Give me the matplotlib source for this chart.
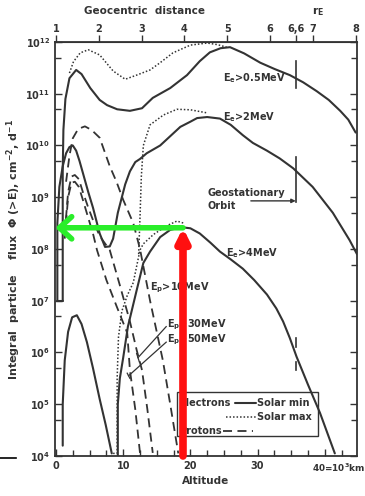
import numpy as np
import matplotlib
matplotlib.use("Agg")
import matplotlib.pyplot as plt
from matplotlib.lines import Line2D
from matplotlib.patches import Rectangle

plt.rcParams['font.family'] = ['DejaVu Sans']
plt.rcParams['font.weight'] = 'bold'
plt.rcParams['mathtext.default'] = 'regular'

EARTH_RADIUS = 6.371  # 10^3 km

# ---- electron fluxes: altitude (10^3 km) and log10 flux ----
e05_min_x = [1.0, 1.0, 1.1, 1.4, 2.0, 3.0, 3.8, 5.1, 6.5, 7.6, 9.1, 11.0, 12.8, 14.4, 17.0, 19.5, 21.4, 22.9, 24.5, 25.9, 28.0, 30.4, 32.5, 34.8, 36.8, 38.8, 40.6, 42.3, 43.5, 44.6]
e05_min_y = [7.0, 9.5, 10.3, 10.9, 11.3, 11.46, 11.38, 11.11, 10.88, 10.78, 10.70, 10.67, 10.72, 10.92, 11.11, 11.36, 11.63, 11.8, 11.88, 11.9, 11.78, 11.6, 11.48, 11.36, 11.22, 11.05, 10.88, 10.67, 10.5, 10.25]

e05_max_x = [2.0, 2.6, 3.6, 4.8, 6.5, 8.5, 10.3, 12.0, 14.0, 15.5, 17.4, 20.0, 22.5, 24.0, 25.4]
e05_max_y = [11.4, 11.62, 11.79, 11.85, 11.75, 11.44, 11.28, 11.36, 11.46, 11.6, 11.79, 11.94, 11.98, 11.95, 11.9]

e2_min_x = [0.2, 0.2, 0.5, 1.0, 1.5, 2.0, 2.5, 3.0, 3.5, 4.0, 4.8, 5.5, 6.5, 7.3, 8.0, 8.5, 9.2, 9.8, 10.3, 11.0, 11.8, 12.5, 13.5, 15.5, 17.0, 18.5, 20.0, 21.0, 22.5, 24.4, 26.0, 27.8, 29.3, 31.4, 33.3, 35.3, 38.2, 41.2, 43.7, 44.8]
e2_min_y = [7.0, 8.5, 9.2, 9.6, 9.85, 9.97, 10.0, 9.9, 9.7, 9.47, 9.1, 8.8, 8.3, 8.04, 8.05, 8.2, 8.7, 9.0, 9.25, 9.5, 9.68, 9.74, 9.85, 10.0, 10.18, 10.36, 10.46, 10.53, 10.55, 10.52, 10.4, 10.2, 10.05, 9.9, 9.75, 9.56, 9.2, 8.7, 8.17, 7.9]

e2_max_x = [12.3, 12.5, 12.7, 13.0, 14.0, 16.0, 18.0, 20.0, 22.5]
e2_max_y = [7.9, 8.6, 9.4, 10.0, 10.4, 10.59, 10.7, 10.69, 10.63]

e4_min_x = [9.2, 9.2, 9.5, 10.0, 10.7, 12.0, 13.0, 14.0, 15.5, 17.0, 18.75, 20.0, 21.4, 23.0, 24.4, 26.0, 27.8, 29.5, 31.4, 32.8, 33.8, 34.8, 35.8, 37.5, 39.3, 41.5]
e4_min_y = [4.0, 5.0, 5.5, 5.9, 6.5, 7.2, 7.73, 7.95, 8.23, 8.37, 8.42, 8.4, 8.3, 8.12, 7.95, 7.8, 7.62, 7.4, 7.12, 6.85, 6.6, 6.28, 5.92, 5.38, 4.83, 4.05]

e4_max_x = [8.5, 9.1, 9.1, 9.3, 9.8, 10.6, 11.5, 12.5, 13.0, 14.5, 16.5, 18.0, 19.0]
e4_max_y = [4.05, 4.05, 5.5, 6.3, 6.8, 7.1, 7.35, 7.98, 8.1, 8.28, 8.45, 8.54, 8.5]

e_inner_x = [1.0, 1.0, 1.3, 1.8, 2.4, 3.1, 3.8, 4.6, 5.5, 6.5, 7.4, 8.3]
e_inner_y = [4.2, 5.0, 5.85, 6.4, 6.68, 6.72, 6.55, 6.2, 5.7, 5.1, 4.6, 4.05]

# ---- proton fluxes ----
p10_x = [1.5, 2.0, 2.5, 3.3, 4.3, 5.3, 6.5, 8.0, 9.0, 10.0, 11.5, 12.5, 14.0, 15.9, 17.0, 18.2]
p10_y = [9.3, 9.8, 10.14, 10.32, 10.37, 10.3, 10.15, 9.6, 9.3, 8.95, 8.5, 8.0, 7.0, 5.85, 5.0, 4.05]

p30_x = [1.3, 1.8, 2.3, 2.8, 3.4, 4.0, 4.8, 5.5, 6.5, 8.0, 9.5, 11.0, 12.0, 12.8, 13.6, 14.4]
p30_y = [8.3, 9.1, 9.4, 9.43, 9.35, 9.1, 8.8, 8.56, 8.25, 7.98, 7.3, 6.6, 6.05, 5.66, 4.9, 4.06]

p50_x = [1.3, 1.8, 2.3, 2.8, 3.4, 4.0, 4.8, 5.5, 6.1, 7.5, 9.0, 10.6, 11.0, 11.8, 12.5]
p50_y = [8.2, 9.0, 9.28, 9.3, 9.2, 8.95, 8.6, 8.3, 7.98, 7.4, 6.9, 6.38, 5.66, 4.9, 4.06]

r_ticks = [1, 2, 3, 4, 5, 6, 6.6, 7, 8]
r_labels = ['1', '2', '3', '4', '5', '6', '6,6', '7', '8']
alt_ticks = [0, 10, 20, 30, 40]
alt_labels = ['0', '10', '20', '30', '']
flux_exponents = [4, 5, 6, 7, 8, 9, 10, 11, 12]

geo_alt = (6.6 - 1) * EARTH_RADIUS
marker_alt = 18.9      # red marker
marker_logflux = 8.41  # green marker

fig = plt.figure(figsize=(3.65, 4.96), dpi=100)
ax = fig.add_axes([55 / 365, 40 / 496, 302 / 365, 414 / 496])
ax.set_yscale('log')
ax.set_xlim(-0.15, 44.8)
ax.set_ylim(1e4, 1e12)

ink = '#333333'
solid = dict(color=ink, lw=1.5, solid_capstyle='round')
dotted = dict(color=ink, lw=1.1, ls=(0, (1, 1.3)))
dashed = dict(color=ink, lw=1.3, ls=(0, (5, 3)))


def curve(xs, ys, style):
    ax.plot(xs, 10 ** np.asarray(ys), **style)


curve(e05_min_x, e05_min_y, solid)
curve(e05_max_x, e05_max_y, dotted)
curve(e2_min_x, e2_min_y, solid)
curve(e2_max_x, e2_max_y, dotted)
curve(e4_min_x, e4_min_y, solid)
curve(e4_max_x, e4_max_y, dotted)
curve(e_inner_x, e_inner_y, solid)
curve(p10_x, p10_y, dashed)
curve(p30_x, p30_y, dashed)
curve(p50_x, p50_y, dashed)
# low-altitude cut-off of the outer curves
ax.plot([0.2, 1.0], [1e7, 1e7], **solid)

# geostationary orbit marks
for lo, hi in [(11.11, 11.63), (8.9, 9.78), (6.1, 6.28), (5.66, 5.82)]:
    ax.plot([geo_alt, geo_alt], [10 ** lo, 10 ** hi], color=ink, lw=1.2)
ax.annotate('', xy=(geo_alt, 10 ** 8.93), xytext=(29.0, 10 ** 8.93),
            arrowprops=dict(arrowstyle='-|>', color=ink, lw=1.0, mutation_scale=6,
                            shrinkA=0, shrinkB=0))

# curve labels
txt = dict(color=ink, fontsize=7, fontweight='bold', va='center')
ax.text(24.9, 10 ** 11.3, 'E$_e$>0.5MeV', **txt)
ax.text(24.9, 10 ** 10.55, 'E$_e$>2MeV', **txt)
ax.text(22.5, 10 ** 9.08, 'Geostationary', **txt)
ax.text(22.5, 10 ** 8.83, 'Orbit', **txt)
ax.text(25.3, 10 ** 7.92, 'E$_e$>4MeV', **txt)
ax.text(14.0, 10 ** 7.25, 'E$_p$>10MeV', **txt)
ax.text(16.5, 10 ** 6.53, 'E$_p$>30MeV', **txt)
ax.text(16.5, 10 ** 6.24, 'E$_p$>50MeV', **txt)
# leader lines from proton labels
ax.plot([16.4, 12.2], [10 ** 6.5, 10 ** 5.9], color=ink, lw=0.9)
ax.plot([12.0, 12.4], [10 ** 5.98, 10 ** 5.82], color=ink, lw=0.9)
ax.plot([16.4, 10.8], [10 ** 6.2, 10 ** 5.55], color=ink, lw=0.9)
ax.plot([10.6, 11.0], [10 ** 5.6, 10 ** 5.5], color=ink, lw=0.9)

# legend box
ax.add_patch(Rectangle((0.405, 0.0485), 0.466, 0.106, transform=ax.transAxes,
                       fill=False, ec=ink, lw=1.0))
ax.text(0.41, 0.128, 'Electrons', transform=ax.transAxes, **txt)
ax.plot([0.595, 0.665], [0.128, 0.128], transform=ax.transAxes, **solid)
ax.text(0.668, 0.128, 'Solar min', transform=ax.transAxes, **txt)
ax.plot([0.565, 0.665], [0.094, 0.094], transform=ax.transAxes, **dotted)
ax.text(0.668, 0.094, 'Solar max', transform=ax.transAxes, **txt)
ax.text(0.41, 0.06, 'Protons', transform=ax.transAxes, **txt)
ax.plot([0.555, 0.655], [0.06, 0.06], transform=ax.transAxes, **dashed)

# ticks and labels
ax.set_xticks(alt_ticks)
ax.set_xticklabels(alt_labels)
ax.set_xticks(np.arange(0, 45, 2.5), minor=True)
ax.set_yticks([10.0 ** e for e in flux_exponents])
ax.set_yticklabels(['10$^{%d}$' % e for e in flux_exponents])
ax.set_yticks([5 * 10.0 ** e for e in flux_exponents[:-1]], minor=True)
ax.yaxis.set_minor_formatter(plt.NullFormatter())
ax.tick_params(which='both', direction='in', top=False, right=True, color=ink,
               labelsize=7, labelcolor=ink, width=1.0)
ax.tick_params(which='major', length=5)
ax.tick_params(which='minor', length=4)
for s in ax.spines.values():
    s.set_color(ink)
    s.set_linewidth(1.3)
fig.text(312 / 365, 1 - 468 / 496, '40=10$^3$km', ha='left', va='center',
         fontsize=6.4, fontweight='bold', color=ink)

top = ax.secondary_xaxis('top', functions=(lambda a: a / EARTH_RADIUS + 1,
                                           lambda r: (r - 1) * EARTH_RADIUS))
top.set_xticks(r_ticks)
top.set_xticklabels(r_labels)
top.tick_params(direction='out', length=5, width=1.0, color=ink, labelsize=7,
                labelcolor=ink, pad=1)
top.spines['top'].set_color(ink)

fig.text(145 / 365, 1 - 11 / 496, 'Geocentric  distance', ha='center', va='center',
         fontsize=7.5, fontweight='bold', color=ink)
fig.text(318 / 365, 1 - 12 / 496, 'r$_E$', ha='center', va='center',
         fontsize=8, color=ink)
ax.set_xlabel('Altitude', fontsize=7.5, fontweight='bold', color=ink, labelpad=4)
ax.set_ylabel('Integral  particle    flux  Φ (>E), cm$^{-2}$, d$^{-1}$', fontsize=8,
              fontweight='bold', color=ink, labelpad=2)

# highlight arrows
ax.annotate('', xy=(-0.1, 10 ** marker_logflux), xytext=(marker_alt, 10 ** marker_logflux),
            arrowprops=dict(arrowstyle='->,head_length=0.55,head_width=0.5', color='#2aee2a',
                            lw=4.0, shrinkA=0, shrinkB=0, mutation_scale=16))
ax.annotate('', xy=(marker_alt, 10 ** marker_logflux), xytext=(marker_alt, 1e4),
            arrowprops=dict(arrowstyle='-|>,head_length=0.6,head_width=0.3', color='#ff1010',
                            lw=5.5, shrinkA=0, shrinkB=0, mutation_scale=12))

fig.add_artist(Line2D([0, 16 / 365], [38 / 496, 38 / 496], color='black', lw=1.2))

fig.savefig('out.png', dpi=100)
